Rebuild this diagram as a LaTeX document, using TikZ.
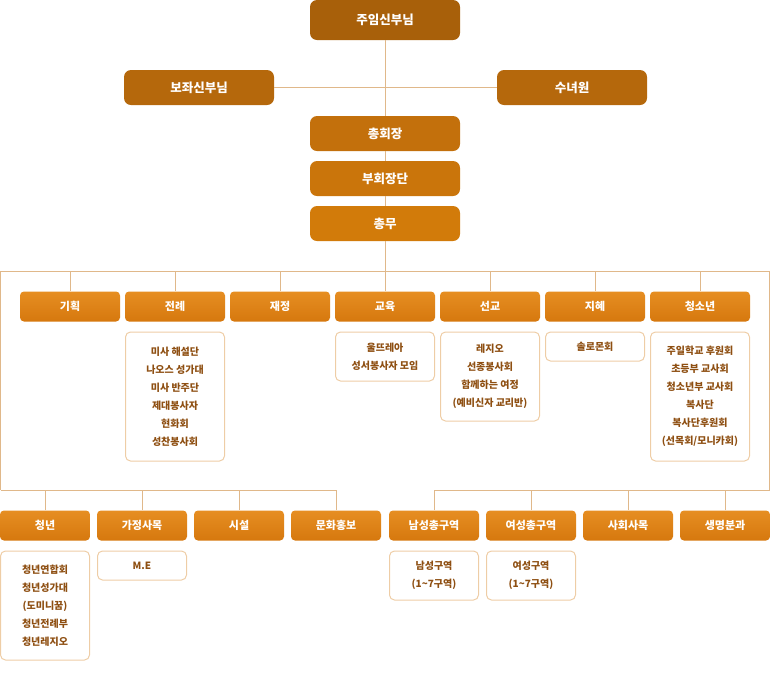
\documentclass[tikz,border=0pt]{standalone}
\usepackage{fontspec}
\setmainfont{Noto Sans CJK KR}
\definecolor{c0}{HTML}{A8600A}
\definecolor{c1}{HTML}{B5680C}
\definecolor{c2}{HTML}{C3700C}
\definecolor{c3}{HTML}{CA750B}
\definecolor{c4}{HTML}{D27B0A}
\definecolor{dtop}{HTML}{E68E22}
\definecolor{dbot}{HTML}{D6780E}
\definecolor{lnc}{HTML}{E0B88A}
\definecolor{subb}{HTML}{EECDA6}
\definecolor{subt}{HTML}{8E4F12}
\begin{document}
\begin{tikzpicture}[x=1pt,y=-1pt,
  big/.style={rounded corners=7pt, minimum width=150pt, minimum height=40pt, inner sep=0pt, text=white, font=\bfseries\fontsize{12.5}{14}\selectfont},
  mid/.style={big, minimum height=35pt},
  dept/.style={rounded corners=4pt, minimum width=100pt, minimum height=30pt, inner sep=0pt, text=white, top color=dtop, bottom color=dbot, font=\bfseries\fontsize{11}{13}\selectfont},
  dept2/.style={dept, minimum width=90pt},
  sub/.style={draw=subb, line width=1pt, rounded corners=5pt, minimum width=99pt, inner sep=0pt, align=center, text=subt, font=\bfseries\fontsize{10}{18}\selectfont},
  sub2/.style={sub, minimum width=89pt},
  ln/.style={draw=lnc, line width=1pt}]
\useasboundingbox (0,0) rectangle (770,681);
% top
\node[big, fill=c0] (pastor) at (385,20) {주임신부님};
\node[mid, fill=c1] (assist) at (199,87.5) {보좌신부님};
\node[mid, fill=c1] (nuns) at (572,87.5) {수녀원};
\node[mid, fill=c2] (pres) at (385,133.5) {총회장};
\node[mid, fill=c3] (vice) at (385,178.5) {부회장단};
\node[mid, fill=c4] (gen) at (385,223.5) {총무};
% bus coordinates
\coordinate (tl) at (0.5,271);
\coordinate (tr) at (769.5,271);
\coordinate (bl) at (0.5,490);
\coordinate (br) at (769.5,490);
\coordinate (bus) at (385,271);
% row 1
\node[dept] (d1) at (70,306.5) {기획};
\node[dept] (d2) at (175,306.5) {전례};
\node[dept] (d3) at (280,306.5) {재정};
\node[dept] (d4) at (385,306.5) {교육};
\node[dept] (d5) at (490,306.5) {선교};
\node[dept] (d6) at (595,306.5) {지혜};
\node[dept] (d7) at (700,306.5) {청소년};
\node[sub, minimum height=129pt] (s2) at (175,396.5) {미사 해설단\\나오스 성가대\\미사 반주단\\제대봉사자\\현화회\\성찬봉사회};
\node[sub, minimum height=49pt] (s4) at (385,356.5) {울뜨레아\\성서봉사자 모임};
\node[sub, minimum height=89pt] (s5) at (490,376.5) {레지오\\선종봉사회\\함께하는 여정\\(예비신자 교리반)};
\node[sub, minimum height=29pt] (s6) at (595,346.5) {솔로몬회};
\node[sub, minimum height=129pt] (s7) at (700,396.5) {주일학교 후원회\\초등부 교사회\\청소년부 교사회\\복사단\\복사단후원회\\(선목회/모니카회)};
% row 2
\node[dept2] (e1) at (45,525.5) {청년};
\node[dept2] (e2) at (142,525.5) {가정사목};
\node[dept2] (e3) at (239,525.5) {시설};
\node[dept2] (e4) at (336,525.5) {문화홍보};
\node[dept2] (e5) at (434,525.5) {남성총구역};
\node[dept2] (e6) at (531,525.5) {여성총구역};
\node[dept2] (e7) at (628,525.5) {사회사목};
\node[dept2] (e8) at (725,525.5) {생명분과};
\node[sub2, minimum height=109pt] (t1) at (45,605.5) {청년연합회\\청년성가대\\(도미니꿈)\\청년전례부\\청년레지오};
\node[sub2, minimum height=29pt] (t2) at (142,565.5) {M.E};
\node[sub2, minimum height=49pt] (t5) at (434,575.5) {남성구역\\(1\textasciitilde7구역)};
\node[sub2, minimum height=49pt] (t6) at (531,575.5) {여성구역\\(1\textasciitilde7구역)};
% connectors
\draw[ln] (pastor.south) -- (pres.north);
\draw[ln] (assist.east) -- (nuns.west);
\draw[ln] (pres.south) -- (vice.north);
\draw[ln] (vice.south) -- (gen.north);
\draw[ln] (gen.south) -- (bus);
\draw[ln] (bl) -- (tl) -- (tr) -- (br);
\foreach \d in {d1,d2,d3,d4,d5,d6,d7} \draw[ln] (\d.north |- tl) -- (\d.north);
\draw[ln] (bl) -- (e4.north |- bl);
\draw[ln] (e5.north |- br) -- (br);
\foreach \d in {e1,e2,e3,e4,e5,e6,e7,e8} \draw[ln] (\d.north |- bl) -- (\d.north);
\end{tikzpicture}
\end{document}
